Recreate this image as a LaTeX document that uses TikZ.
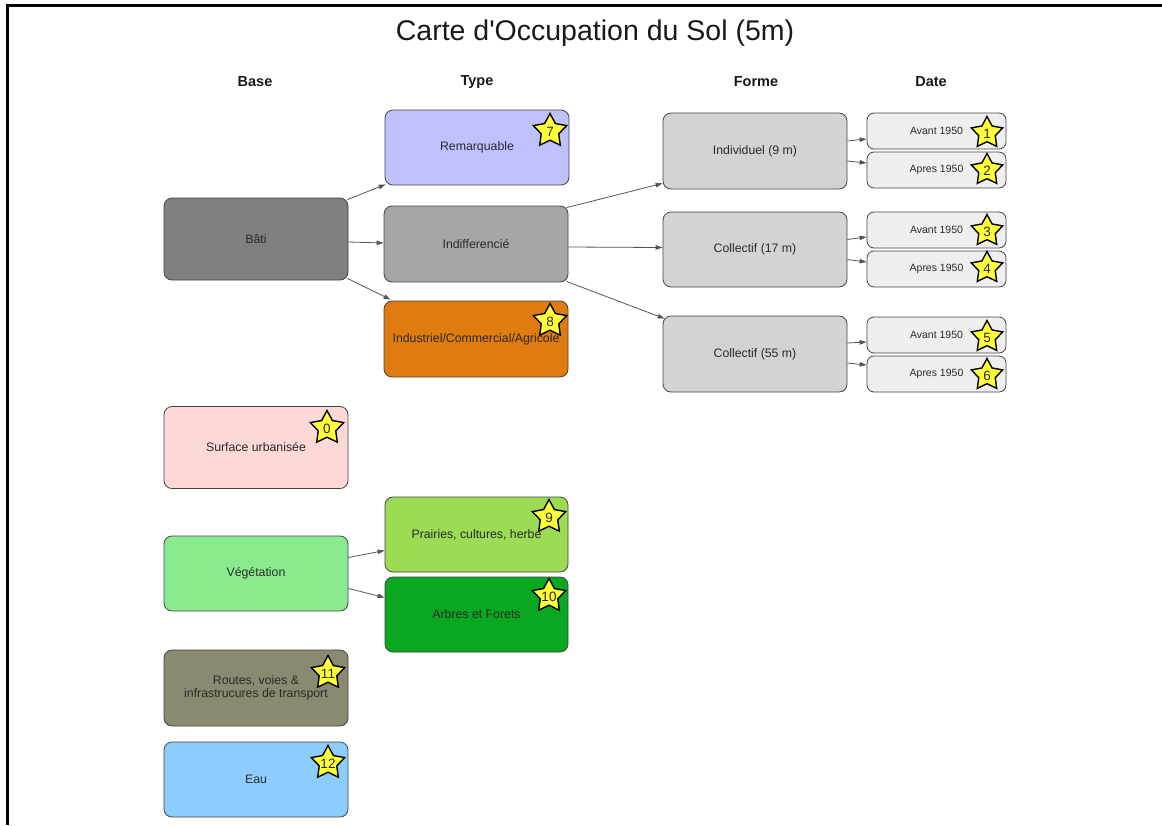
\documentclass[tikz,border=0pt]{standalone}
\usepackage{fontspec}
\setmainfont{Liberation Sans}
\newfontfamily\titlefont{Liberation Sans}[Ligatures=ResetAll]
\usetikzlibrary{shapes.geometric,arrows.meta,calc}
\definecolor{cBati}{HTML}{808080}
\definecolor{cRem}{HTML}{C0C0FF}
\definecolor{cInd}{HTML}{A6A6A6}
\definecolor{cIndus}{HTML}{E07B10}
\definecolor{cForme}{HTML}{D3D3D3}
\definecolor{cDate}{HTML}{EFEFEF}
\definecolor{cSurf}{HTML}{FCD9D6}
\definecolor{cVeg}{HTML}{8AEA8E}
\definecolor{cPrai}{HTML}{9CDC55}
\definecolor{cArb}{HTML}{0AA820}
\definecolor{cRout}{HTML}{8A8A72}
\definecolor{cEau}{HTML}{8DCDFD}
\definecolor{cStar}{HTML}{FFFF3A}
\definecolor{cEdge}{HTML}{444444}
\definecolor{cText}{HTML}{2A2A2A}
\definecolor{cLink}{HTML}{555555}
\tikzset{
  box/.style={draw=cEdge, line width=0.8pt, rounded corners=8pt, inner sep=2pt,
    minimum width=184pt, minimum height=76pt, text=cText, align=center,
    font=\fontsize{12.3}{13.5}\selectfont},
  datebox/.style={draw=cEdge, line width=0.8pt, rounded corners=7pt, fill=cDate,
    minimum width=139pt, minimum height=36pt, text=cText,
    font=\fontsize{10.5}{12}\selectfont},
  starbg/.style={star, star points=5, star point ratio=1.9, draw=black,
    line width=1.4pt, fill=cStar, minimum size=34pt, inner sep=0pt},
  starnum/.style={text=cText, inner sep=0pt, font=\fontsize{13.5}{13.5}\selectfont},
  head/.style={font=\fontsize{14.5}{16}\selectfont\bfseries, text=black!90},
  link/.style={draw=cLink, line width=0.8pt, -{Triangle[length=7pt,width=4.5pt]}}
}
\newcommand\stardeco[4]{%
  \node[starbg, minimum size=#4] (#1) at (#2) {};
  \node[starnum] (#1n) at ($(#1.center)+(0,1)$) {#3};}
\begin{document}
\begin{tikzpicture}[x=1pt,y=-1pt]
\useasboundingbox (0,0) rectangle (1162,825);
\fill[white] (0,0) rectangle (1162,825);
% frame
\coordinate (ftl) at (7,5);
\coordinate (ftr) at (1162,5);
\coordinate (fbl) at (7,825);
\draw[line width=3pt, black] (fbl) -- (ftl) -- (ftr);

% title and headers
\node[font=\titlefont\fontsize{28.5}{32}\selectfont, text=black!90] (title) at (595,33) {Carte d'Occupation du Sol (5m)};
\node[head] (hbase) at (255,82) {Base};
\node[head] (htype) at (477,82) {Type};
\node[head] (hforme) at (756,82) {Forme};
\node[head] (hdate) at (931,82) {Date};

% base column
\node[box, fill=cBati, minimum height=82pt] (bati) at (256,239) {Bâti};
\node[box, fill=cSurf, minimum height=82pt] (surf) at (256,447.5) {Surface urbanisée};
\node[box, fill=cVeg, minimum height=75pt] (veg) at (256,573.5) {Végétation};
\node[box, fill=cRout] (rout) at (256,688) {Routes, voies \&\\infrastrucures de transport};
\node[box, fill=cEau, minimum height=75pt] (eau) at (256,779.5) {Eau};

% type column
\node[box, fill=cRem, minimum height=75pt] (rem) at (477,147.5) {Remarquable};
\node[box, fill=cInd] (ind) at (476,244) {Indifferencié};
\node[box, fill=cIndus] (indus) at (476,339) {Industriel/Commercial/Agricole};
\node[box, fill=cPrai, minimum width=183pt, minimum height=75pt] (prai) at (476.5,534.5) {Prairies, cultures, herbe};
\node[box, fill=cArb, minimum width=183pt, minimum height=75pt] (arb) at (476.5,614.5) {Arbres et Forets};

% forme column
\node[box, fill=cForme] (f1) at (755,151) {Individuel (9 m)};
\node[box, fill=cForme, minimum height=75pt] (f2) at (755,249.5) {Collectif (17 m)};
\node[box, fill=cForme] (f3) at (755,354) {Collectif (55 m)};

% date column
\node[datebox] (d1) at (936.5,131) {Avant 1950};
\node[datebox] (d2) at (936.5,170) {Apres 1950};
\node[datebox] (d3) at (936.5,230) {Avant 1950};
\node[datebox] (d4) at (936.5,269) {Apres 1950};
\node[datebox] (d5) at (936.5,335) {Avant 1950};
\node[datebox] (d6) at (936.5,374) {Apres 1950};

% stars
\stardeco{s7}{550,131}{7}{35pt}
\stardeco{s8}{550,321}{8}{35pt}
\stardeco{s0}{327,428}{0}{35pt}
\stardeco{s9}{549,517}{9}{35pt}
\stardeco{s10}{549,596}{10}{35pt}
\stardeco{s11}{328,673}{11}{35pt}
\stardeco{s12}{328,763}{12}{35pt}
\stardeco{s1}{987,133}{1}{33pt}
\stardeco{s2}{987,170}{2}{33pt}
\stardeco{s3}{987,231}{3}{33pt}
\stardeco{s4}{987,268}{4}{33pt}
\stardeco{s5}{987,337}{5}{33pt}
\stardeco{s6}{987,375}{6}{33pt}

% links
\draw[link] ($(bati.north east)+(-1,2)$) -- ($(rem.south west)+(1,-1)$);
\draw[link] ($(bati.east)+(0,3)$) -- ($(ind.west)+(0,-1)$);
\draw[link] ($(bati.south east)+(-1,-2)$) -- ($(indus.north west)+(7,-1)$);

\draw[link] ($(ind.north east)+(-2,2)$) -- ($(f1.south west)+(0,-6)$);
\draw[link] ($(ind.east)+(0,3)$) -- ($(f2.west)+(0,-2)$);
\draw[link] ($(ind.south east)+(-2,-1)$) -- ($(f3.north west)+(2,3)$);

\draw[link] ($(f1.east)+(0,-10)$) -- ($(d1.west)+(0,8)$);
\draw[link] ($(f1.east)+(0,10)$) -- ($(d2.west)+(0,-7)$);
\draw[link] ($(f2.east)+(0,-10)$) -- ($(d3.west)+(0,7)$);
\draw[link] ($(f2.east)+(0,10)$) -- ($(d4.west)+(0,-7)$);
\draw[link] ($(f3.east)+(0,-11)$) -- ($(d5.west)+(0,7)$);
\draw[link] ($(f3.east)+(0,9)$) -- ($(d6.west)+(0,-9)$);

\draw[link] ($(veg.east)+(0,-16)$) -- ($(prai.west)+(0,16)$);
\draw[link] ($(veg.east)+(0,15)$) -- ($(arb.west)+(0,-17)$);
\end{tikzpicture}
\end{document}
